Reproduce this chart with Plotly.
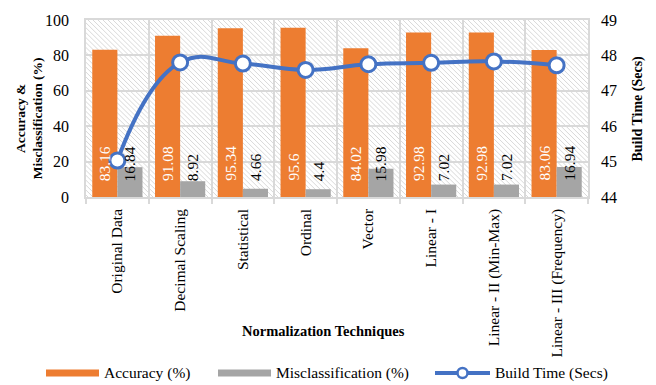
import plotly.graph_objects as go

# ---- data ----
techniques = [
    "Original Data", "Decimal Scaling", "Statistical", "Ordinal", "Vector",
    "Linear - I", "Linear - II (Min-Max)", "Linear - III (Frequency)",
]
accuracy = [83.16, 91.08, 95.34, 95.6, 84.02, 92.98, 92.98, 83.06]
misclassification = [16.84, 8.92, 4.66, 4.4, 15.98, 7.02, 7.02, 16.94]
build_time = [45.03, 47.80, 47.77, 47.59, 47.75, 47.79, 47.83, 47.72]

# ---- layout geometry / style ----
W, H = 656, 385
L, R, T, B = 86, 68, 17, 188
PW, PH = W - L - R, H - T - B

SERIF = "Liberation Serif, Times New Roman, serif"
ORANGE, GRAY, BLUE, GRID = "#ED7D31", "#A5A5A5", "#4472C4", "#D9D9D9"


def px_x(px):
    return (px - L) / PW


def px_y(py):
    return (T + PH - py) / PH


fig = go.Figure()
fig.add_bar(x=techniques, y=accuracy, name="Accuracy (%)", marker_color=ORANGE,
            marker_line_width=0, showlegend=False)
fig.add_bar(x=techniques, y=misclassification, name="Misclassification (%)",
            marker_color=GRAY, marker_line_width=0, showlegend=False)
fig.add_scatter(x=techniques, y=build_time, name="Build Time (Secs)", yaxis="y2",
                mode="lines+markers", showlegend=False,
                line=dict(color=BLUE, width=4, shape="spline", smoothing=1.3),
                marker=dict(size=15, color="white", line=dict(color=BLUE, width=3)))

# diagonal hatch filling the plot area (beneath the gridlines)
segs = []
step = 5
c = -PW
while c < PH:
    x0 = max(0, -c)
    x1 = min(PW, PH - c)
    if x1 > x0:
        y0, y1 = x0 + c, x1 + c
        segs.append(f"M{x0 / PW:.5f},{1 - y0 / PH:.5f}L{x1 / PW:.5f},{1 - y1 / PH:.5f}")
    c += step
fig.add_shape(type="path", path="".join(segs), xref="paper", yref="paper",
              layer="below", line=dict(color=GRID, width=1))

annotations = []
# value labels at the base of each bar
for i, (a, m) in enumerate(zip(accuracy, misclassification)):
    annotations.append(dict(x=i - 0.2, y=0, xref="x", yref="y", text=f"{a:g}",
                            textangle=-90, showarrow=False, yanchor="bottom",
                            yshift=14, font=dict(family=SERIF, size=15.5, color="white")))
    annotations.append(dict(x=i + 0.2, y=0, xref="x", yref="y", text=f"{m:g}",
                            textangle=-90, showarrow=False, yanchor="bottom",
                            yshift=14, font=dict(family=SERIF, size=15.5, color="black")))

# axis titles
annotations.append(dict(x=px_x(29), y=px_y(117), xref="paper", yref="paper",
                        xanchor="center", yanchor="middle",
                        text="<b>Accuracy &<br>Misclassification (%)</b>", textangle=-90,
                        showarrow=False, font=dict(family=SERIF, size=13.5, color="black")))
annotations.append(dict(x=px_x(637), y=px_y(107), xref="paper", yref="paper",
                        xanchor="center", yanchor="middle",
                        text="<b>Build Time (Secs)</b>", textangle=-90,
                        showarrow=False, font=dict(family=SERIF, size=14, color="black")))
annotations.append(dict(x=px_x(323), y=px_y(333), xref="paper", yref="paper",
                        xanchor="center", yanchor="middle",
                        text="<b>Normalization Techniques</b>",
                        showarrow=False, font=dict(family=SERIF, size=14.5, color="black")))

# legend
LEG_Y = 376
legend_items = [
    ("Accuracy (%)", ORANGE, 46, 99, False),
    ("Misclassification (%)", GRAY, 218, 271, False),
    ("Build Time (Secs)", BLUE, 435, 490, True),
]
shapes = []
for label, col, sx0, sx1, marker in legend_items:
    shapes.append(dict(type="line", xref="paper", yref="paper",
                       x0=px_x(sx0), x1=px_x(sx1), y0=px_y(LEG_Y), y1=px_y(LEG_Y),
                       line=dict(color=col, width=4 if marker else 7)))
    if marker:
        cx = px_x((sx0 + sx1) / 2)
        shapes.append(dict(type="circle", xref="paper", yref="paper",
                           xsizemode="pixel", ysizemode="pixel",
                           xanchor=cx, yanchor=px_y(LEG_Y),
                           x0=-5, x1=5, y0=-5, y1=5,
                           fillcolor="white", line=dict(color=col, width=2.5)))
    annotations.append(dict(x=px_x(sx1 + 3), y=px_y(LEG_Y), xref="paper", yref="paper",
                            text=label, showarrow=False, xanchor="left", yanchor="middle",
                            font=dict(family=SERIF, size=15.5, color="black")))

for s in shapes:
    fig.add_shape(**s)

fig.update_layout(
    width=W, height=H,
    margin=dict(l=L, r=R, t=T, b=B, pad=0),
    paper_bgcolor="white", plot_bgcolor="white",
    barmode="group", bargap=0.2, bargroupgap=0,
    showlegend=False,
    font=dict(family=SERIF, color="black"),
    annotations=annotations,
    xaxis=dict(type="category", range=[-0.5, 7.5], tickson="boundaries",
               showgrid=True, gridcolor=GRID, gridwidth=1.5,
               showline=True, linecolor=GRID, linewidth=1.5, mirror=True,
               ticks="outside", ticklen=5, tickcolor=GRID, tickwidth=1.5,
               tickangle=-90, ticklabelstandoff=4,
               tickfont=dict(family=SERIF, size=15.5, color="black")),
    yaxis=dict(range=[0, 100], dtick=20, showgrid=True, gridcolor=GRID, gridwidth=1.5,
               zeroline=False, showline=True, linecolor=GRID, linewidth=1.5, mirror=True,
               ticks="", ticklabelstandoff=12,
               tickfont=dict(family=SERIF, size=16, color="black")),
    yaxis2=dict(range=[44, 49], dtick=1, overlaying="y", side="right",
                showgrid=False, zeroline=False, showline=False, ticks="",
                ticklabelstandoff=12,
                tickfont=dict(family=SERIF, size=16, color="black")),
)

fig.write_html("out.html")
